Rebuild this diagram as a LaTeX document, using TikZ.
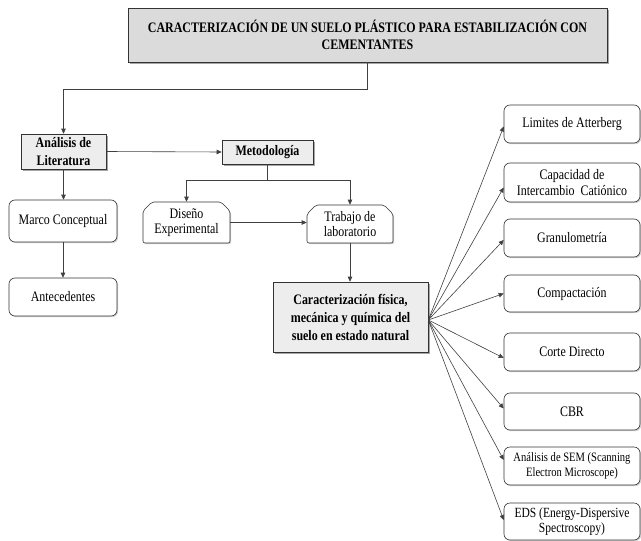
\documentclass[tikz,border=0pt]{standalone}
\usepackage{fontspec}
\setmainfont{Liberation Serif}[FakeStretch=0.825]
\usetikzlibrary{arrows.meta,shapes.misc,shadows}
\begin{document}
\begin{tikzpicture}[x=1pt,y=-1pt,
  base/.style={align=center, font=\fontsize{14.5}{15.5}\selectfont, inner sep=1pt,
    draw=black!80, line width=0.6pt, text=black},
  graybox/.style={base, fill=gray!14, font=\bfseries\fontsize{14.5}{18}\selectfont,
    drop shadow={shadow xshift=1.6pt, shadow yshift=-1.6pt, fill=gray!70, opacity=1}},
  titlebox/.style={graybox, fill=gray!28, font=\bfseries\fontsize{14.5}{16.5}\selectfont},
  roundbox/.style={base, rounded corners=6pt, fill=white,
    drop shadow={shadow xshift=1.2pt, shadow yshift=-1.2pt, fill=gray!35, opacity=1}},
  chambox/.style={base, chamfered rectangle,
    chamfered rectangle corners={north west,north east},
    chamfered rectangle xsep=4pt, chamfered rectangle ysep=5pt,
    rounded corners=2pt, fill=white,
    drop shadow={shadow xshift=1.2pt, shadow yshift=-1.2pt, fill=gray!35, opacity=1}},
  rbox/.style={roundbox, minimum width=136pt},
  line/.style={draw=black!75, line width=0.6pt},
  arr/.style={line, -{Triangle[length=5pt,width=4.5pt]}}
]
\useasboundingbox (0,0) rectangle (641,541);

% main boxes
\node[titlebox, minimum width=479pt, minimum height=54pt] (title) at (367.5,35)
  {CARACTERIZACIÓN DE UN SUELO PLÁSTICO PARA ESTABILIZACIÓN CON\\CEMENTANTES};
\node[graybox, minimum width=85pt, minimum height=35pt] (ana) at (63.5,151.5)
  {Análisis de\\Literatura};
\node[graybox, minimum width=91pt, minimum height=24pt] (meto) at (267.5,152)
  {Metodología};
\node[roundbox, minimum width=108pt, minimum height=42pt] (marco) at (63,221)
  {Marco Conceptual};
\node[roundbox, minimum width=108pt, minimum height=38pt] (ante) at (63,297)
  {Antecedentes};
\node[chambox, minimum width=87pt, minimum height=41pt] (dis) at (186.5,222.5)
  {Diseño\\Experimental};
\node[chambox, minimum width=86pt, minimum height=38pt] (trab) at (350,224)
  {Trabajo de\\laboratorio};
\node[graybox, minimum width=155pt, minimum height=70pt] (car) at (350.5,317)
  {Caracterización física,\\mecánica y química del\\suelo en estado natural};

% right column
\node[rbox, minimum height=38pt] (lim) at (572,124) {Limites de Atterberg};
\node[rbox, minimum height=39pt] (cap) at (572,182.5) {Capacidad de\\Intercambio\ \ Catiónico};
\node[rbox, minimum height=38pt] (gra) at (572,238) {Granulometría};
\node[rbox, minimum height=37pt] (com) at (572,293.5) {Compactación};
\node[rbox, minimum height=38pt] (cor) at (572,352) {Corte Directo};
\node[rbox, minimum height=37pt] (cbr) at (572,411.5) {CBR};
\node[rbox, minimum height=38pt, font=\fontsize{12.8}{14.5}\selectfont] (sem) at (572,466)
  {Análisis de SEM (Scanning\\Electron Microscope)};
\node[rbox, minimum height=37pt, font=\fontsize{14}{15.5}\selectfont] (eds) at (572,521.5)
  {EDS (Energy-Dispersive\\Spectroscopy)};

% connectors
\coordinate (j1) at (367.5,89);
\coordinate (j2) at (267.5,180);
\draw[line] (title.south) -- (j1);
\draw[arr] (j1) -| (ana.north);
\draw[arr] (ana.east) -- (meto.west);
\draw[line] (meto.south) -- (j2);
\draw[arr] (j2) -| (dis.north);
\draw[arr] (j2) -| (trab.north);
\draw[arr] (dis.east) -- (dis.east -| trab.west);
\draw[arr] (ana.south) -- (ana.south |- marco.north);
\draw[arr] (marco.south) -- (ante.north);
\draw[arr] (trab.south) -- (trab.south |- car.north);

\coordinate (f) at ([yshift=-3pt]car.east);
\draw[arr] (f) -- ([yshift=-2.5pt]lim.west);
\draw[arr] (f) -- ([yshift=-5pt]cap.west);
\draw[arr] (f) -- ([yshift=-2pt]gra.west);
\draw[arr] (f) -- (com.west);
\draw[arr] (f) -- ([yshift=-6pt]cor.west);
\draw[arr] (f) -- ([yshift=3pt]cbr.west);
\draw[arr] (f) -- ([yshift=6pt]sem.west);
\draw[arr] (f) -- ([yshift=1.5pt]eds.west);
\end{tikzpicture}
\end{document}
